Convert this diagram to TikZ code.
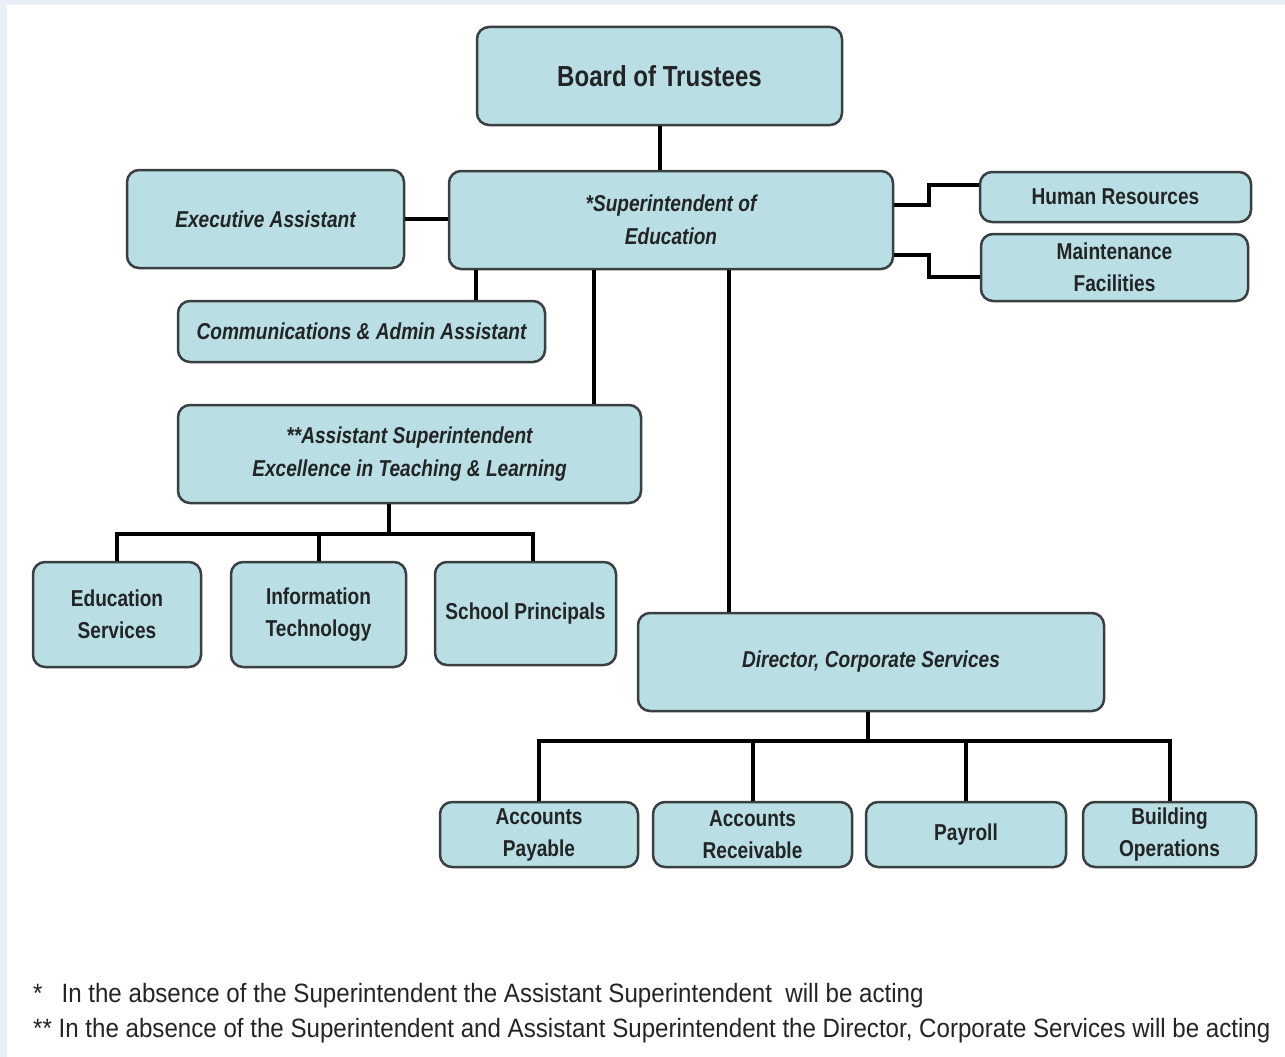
\documentclass[tikz,border=0pt]{standalone}
\usepackage{fontspec}
\setmainfont{Liberation Sans}[FakeStretch=0.83]
\newfontfamily\notefont{Liberation Sans}[FakeStretch=0.91]
\usepackage{tikz}
\usetikzlibrary{positioning}

\definecolor{boxfill}{RGB}{185,223,228}
\definecolor{boxline}{RGB}{58,64,66}
\definecolor{framebg}{RGB}{233,238,247}
\definecolor{inkgray}{RGB}{34,36,38}

\begin{document}
\begin{tikzpicture}[x=1pt,y=-1pt]
    \tikzstyle{unit}=[draw=boxline, fill=boxfill, line width=2.5pt,
            rounded corners=12pt, align=center, inner sep=0pt,
            text=inkgray, font=\fontsize{23}{32}\selectfont\bfseries]
    \tikzstyle{lead}=[unit, font=\fontsize{23}{33}\selectfont\bfseries\itshape]
    \tikzstyle{link}=[line width=4pt, black]
    \tikzstyle{note}=[anchor=base west, inner sep=0pt, text=inkgray,
            font=\notefont\fontsize{26.5}{30}\selectfont]

    % page frame
    \fill[framebg] (0,0) rectangle (1285,1057);
    \fill[white] (7,5) rectangle (1285,1057);
    \useasboundingbox (0,0) rectangle (1285,1057);

    \node[unit, minimum width=365pt, minimum height=98pt,
          font=\fontsize{29}{34}\selectfont\bfseries] (board) at (659.5,76) {Board of Trustees};
    \node[lead, minimum width=444pt, minimum height=98pt] (super) at (671,220)
        {*Superintendent of\\Education};
    \node[lead, minimum width=277pt, minimum height=98pt] (exec) at (265.5,219)
        {Executive Assistant};
    \node[lead, minimum width=367pt, minimum height=61pt] (comm) at (361.5,331.5)
        {Communications \& Admin Assistant};
    \node[unit, minimum width=271pt, minimum height=50pt] (hr) at (1115.5,197)
        {Human Resources};
    \node[unit, minimum width=267pt, minimum height=67pt] (maint) at (1114.5,267.5)
        {Maintenance\\Facilities};
    \node[lead, minimum width=463pt, minimum height=98pt] (asst) at (409.5,454)
        {**Assistant Superintendent\\Excellence in Teaching \& Learning};
    \node[lead, minimum width=466pt, minimum height=98pt] (dir) at (871,662)
        {Director, Corporate Services};

    \node[unit, minimum width=168pt, minimum height=105pt] (edu) at (117,614.5)
        {Education\\Services};
    \node[unit, minimum width=175pt, minimum height=105pt] (it) at (318.5,614.5)
        {Information\\Technology};
    \node[unit, minimum width=181pt, minimum height=103pt] (princ) at (525.5,613.5)
        {School Principals};

    \node[unit, minimum width=198pt, minimum height=65pt] (ap) at (539,834.5)
        {Accounts\\Payable};
    \node[unit, minimum width=199pt, minimum height=65pt] (ar) at (752.5,834.5)
        {Accounts\\Receivable};
    \node[unit, minimum width=200pt, minimum height=65pt] (pay) at (966,834.5)
        {Payroll};
    \node[unit, minimum width=173pt, minimum height=65pt] (bo) at (1169.5,834.5)
        {Building\\Operations};

    % reporting lines
    \draw[link] ([xshift=0.5pt]board.south) -- ([xshift=0.5pt]board.south |- super.north);
    \draw[link] (exec) -- (exec -| super.west);
    \draw[link] ([xshift=28pt]super.south west) -- ([xshift=28pt]super.south west |- comm.north);
    \draw[link] ([xshift=146pt]super.south west) -- ([xshift=146pt]super.south west |- asst.north);
    \draw[link] ([xshift=281pt]super.south west) -- ([xshift=281pt]super.south west |- dir.north);
    \draw[link] ([yshift=15pt]super.east) -- ++(35,0) |- ([yshift=12pt]hr.west);
    \draw[link] ([yshift=-35pt]super.east) -- ++(35,0) |- ([yshift=-9.5pt]maint.west);

    \draw[link] ([xshift=-20.5pt]asst.south) -- ++(0,30) coordinate (abus);
    \foreach \n in {edu, it}
    {
        \draw[link] (abus) -| (\n.north);
    }
    \draw[link] (abus) -| ([xshift=7.5pt]princ.north);

    \draw[link] ([xshift=-3pt]dir.south) -- ++(0,29) coordinate (dbus);
    \foreach \n in {ap, ar, pay, bo}
    {
        \draw[link] (dbus) -| (\n.north);
    }

    \node[note] (n1) at (33,1002)
        {*\hspace{19pt}In the absence of the Superintendent the Assistant Superintendent\ \ will be acting};
    \node[note] (n2) at (33,1037)
        {** In the absence of the Superintendent and Assistant Superintendent the Director, Corporate Services will be acting};
\end{tikzpicture}
\end{document}
